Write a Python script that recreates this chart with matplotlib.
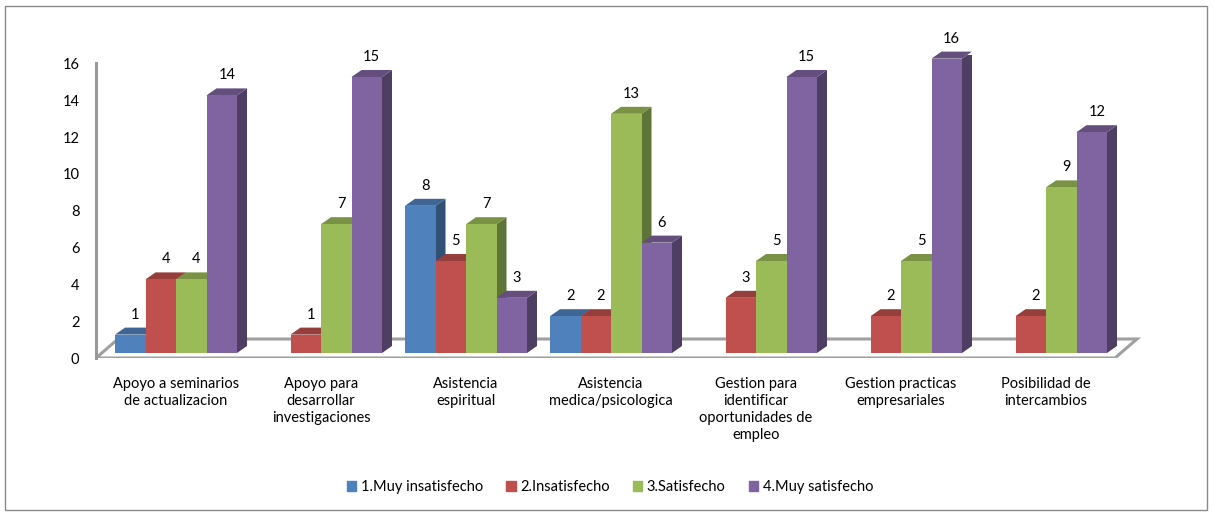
import numpy as np
import matplotlib
matplotlib.use("Agg")
import matplotlib.pyplot as plt
from matplotlib.patches import Polygon, Patch, Rectangle
from matplotlib.colors import to_rgb
import matplotlib.transforms as mtransforms

plt.rcParams['font.family'] = ['Lato', 'DejaVu Sans']

categories = ["Apoyo a seminarios\nde actualizacion",
              "Apoyo para\ndesarrollar\ninvestigaciones",
              "Asistencia\nespiritual",
              "Asistencia\nmedica/psicologica",
              "Gestion para\nidentificar\noportunidades de\nempleo",
              "Gestion practicas\nempresariales",
              "Posibilidad de\nintercambios"]
series = ["1.Muy insatisfecho", "2.Insatisfecho", "3.Satisfecho", "4.Muy satisfecho"]
muy_insatisfecho = [1, 0, 8, 2, 0, 0, 0]
insatisfecho = [4, 1, 5, 2, 3, 2, 2]
satisfecho = [4, 7, 7, 13, 5, 5, 9]
muy_satisfecho = [14, 15, 3, 6, 15, 16, 12]
values = [muy_insatisfecho, insatisfecho, satisfecho, muy_satisfecho]
colors = ["#4F81BD", "#C0504D", "#9BBB59", "#8064A2"]
yticks = [0, 2, 4, 6, 8, 10, 12, 14, 16]

W, H = 1213, 515
fig = plt.figure(figsize=(W / 100, H / 100), dpi=100)
fig.patches.append(Rectangle((5 / W, 5 / H), 1 - 11 / W, 1 - 11 / H, transform=fig.transFigure,
                             fill=False, ec="#8a8a8a", lw=1))

# axes placed in pixels
left, right, bottom, top = 96, 1145, 358, 55
ax = fig.add_axes([left / W, 1 - bottom / H, (right - left) / W, (bottom - top) / H])
gstep, x0, ppu, base = 145.0, 176.0, 18.4, 353.0
xlim = ((left - x0) / gstep, (right - x0) / gstep)
ylim = ((base - bottom) / ppu, (base - top) / ppu)
ax.set_xlim(*xlim)
ax.set_ylim(*ylim)

bw = 30.5 / gstep
dx, dy = 10 / gstep, 7 / ppu

def shade(c, f):
    r, g, b = to_rgb(c)
    return (r * f, g * f, b * f)

# floor
fdx, fdy = 22 / gstep, 19 / ppu
fr = (1115 - x0) / gstep
floor = Polygon([(xlim[0], ylim[0]), (fr, ylim[0]), (fr + fdx, ylim[0] + fdy),
                 (xlim[0] + fdx, ylim[0] + fdy)], closed=True, fc="white", ec="#a0a0a0",
                lw=2.2, zorder=1)
ax.add_patch(floor)

x = np.arange(len(categories))
z = 2
for i in range(len(categories)):
    for j in range(4):
        v = values[j][i]
        if v == 0:
            continue
        xl = x[i] + (j - 2) * bw
        xr = xl + bw
        side = Polygon([(xr, 0), (xr + dx, dy), (xr + dx, v + dy), (xr, v)], closed=True,
                       fc=shade(colors[j], 0.62), ec="none", zorder=z)
        topf = Polygon([(xl, v), (xl + dx, v + dy), (xr + dx, v + dy), (xr, v)], closed=True,
                       fc=shade(colors[j], 0.78), ec="none", zorder=z, clip_on=False)
        ax.add_patch(side)
        ax.add_patch(topf)
        ax.bar(xl, v, width=bw, align="edge", color=colors[j], zorder=z + 0.5, lw=0)
        ax.annotate(str(v), (xl + bw / 2 + dx / 2, v + dy), xytext=(0, 6), textcoords="offset pixels",
                    ha="center", va="bottom", fontsize=10.5, color="black", zorder=z + 1,
                    annotation_clip=False)
        z += 2

for s in ["top", "right", "bottom"]:
    ax.spines[s].set_visible(False)
ax.spines["left"].set_color("#999999")
ax.spines["left"].set_linewidth(2.2)
ax.spines["left"].set_bounds(ylim[0], (base - 63) / ppu)
ax.set_yticks(yticks)
ax.tick_params(axis="y", length=0, pad=12, labelsize=10.5)
off = mtransforms.ScaledTranslation(0, -5 / 100, fig.dpi_scale_trans)
for lab in ax.get_yticklabels():
    lab.set_transform(lab.get_transform() + off)
ax.set_xticks(x)
ax.set_xticklabels(categories, fontsize=10.5, linespacing=1.25, va="top")
ax.tick_params(axis="x", length=0, pad=14)
ax.patch.set_visible(False)

handles = [Patch(color=c, label=s) for c, s in zip(colors, series)]
fig.legend(handles=handles, loc="center", bbox_to_anchor=(610 / W, 1 - 487 / H), ncol=4,
           frameon=False, fontsize=10.5, handlelength=0.65, handleheight=0.65,
           handletextpad=0.3, columnspacing=1.6)

fig.savefig("out.png", dpi=100)
